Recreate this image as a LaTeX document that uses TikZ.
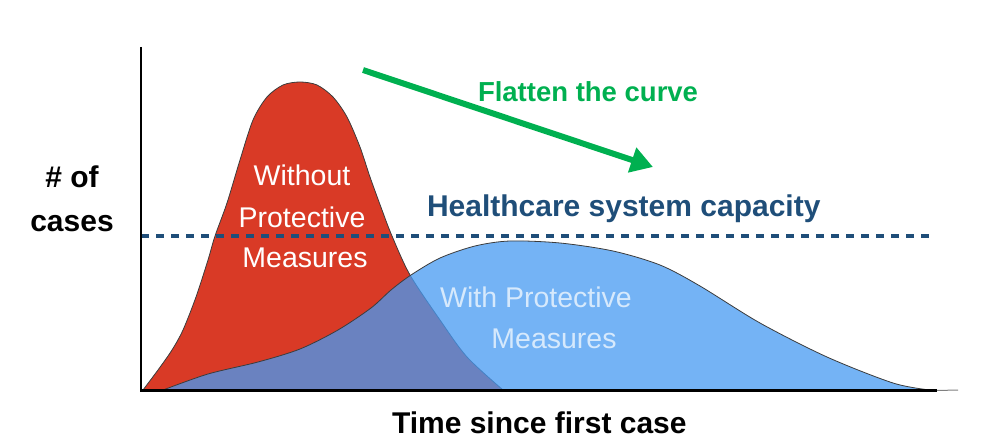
\documentclass[tikz,border=0pt]{standalone}
\usepackage{fontspec}
\setmainfont{Liberation Sans}
\usetikzlibrary{arrows.meta}
\definecolor{redC}{RGB}{217,58,38}
\definecolor{blueC}{RGB}{71,154,242}
\definecolor{capC}{RGB}{31,78,121}
\definecolor{greenC}{RGB}{0,176,80}
\definecolor{paleC}{RGB}{214,233,252}
\definecolor{edgeC}{RGB}{60,60,60}
\begin{document}
\begin{tikzpicture}[x=1pt,y=-1pt,
  lbl/.style={inner sep=0pt,outer sep=0pt},
  boldlbl/.style={lbl,font=\bfseries\fontsize{30}{36}\selectfont},
  curvelbl/.style={lbl,font=\fontsize{28.5}{34}\selectfont},
  axisline/.style={black,line width=2pt},
  capline/.style={capC,line width=4pt,dash pattern=on 8pt off 7pt},
  arrowline/.style={greenC,line width=6pt,-{Triangle[length=22pt,width=25pt]}},
  edge/.style={draw=edgeC,line width=0.8pt}]
\useasboundingbox (0,0) rectangle (1001,446);
% red curve (without measures)
\filldraw[edge,fill=redC] plot[smooth,tension=0.5] coordinates {(143,390) (158,370) (172,350) (183,330) (196,297) (208,260) (215,236) (227,203) (240,160) (253,120) (267,97) (283,85) (300,82) (317,85) (333,97) (347,117) (360,147) (370,177) (382,210) (392,236) (410,275) (440,320) (467,357) (503,390)} -- cycle;
% blue curve (with measures)
\fill[blueC,fill opacity=0.755] plot[smooth,tension=0.5] coordinates {(163,390) (208,374) (258,362) (300,349) (338,330) (371,308) (391,290) (411,275) (440,258) (475,246) (510,241) (560,243) (613,251) (660,265) (700,286) (760,323) (827,357) (893,383) (930,390)} -- cycle;
\draw[edge] plot[smooth,tension=0.5] coordinates {(163,390) (208,374) (258,362) (300,349) (338,330) (371,308) (391,290) (411,275) (440,258) (475,246) (510,241) (560,243) (613,251) (660,265) (700,286) (760,323) (827,357) (893,383) (930,390)};
% capacity line
\coordinate (c1) at (141,236);
\coordinate (c2) at (933,236);
\draw[capline] (c1) -- (c2);
% axes
\coordinate (o) at (141,390.5);
\coordinate (ytop) at (141,47);
\coordinate (xend) at (937,390.5);
\coordinate (xtail) at (958,390);
\draw[axisline] (ytop) -- (o);
\draw[axisline,line width=3pt] ([xshift=-1pt]o) -- (xend);
\draw[gray,line width=1pt] (xend) -- (xtail);
% arrow
\coordinate (a1) at (363,70);
\coordinate (a2) at (653,167);
\draw[arrowline] (a1) -- (a2);
% labels
\node[boldlbl,anchor=base] (y1) at (72,188) {\# of};
\node[boldlbl,anchor=base] (y2) at (72,232) {cases};
\node[boldlbl,anchor=base west] (xl) at (392,433) {Time since first case};
\node[boldlbl,anchor=base west,text=capC] (cap) at (427,217) {Healthcare system capacity};
\node[lbl,anchor=base west,text=greenC,font=\bfseries\fontsize{27.5}{33}\selectfont] (fl) at (478,102) {Flatten the curve};
\node[curvelbl,anchor=base,text=white] (w1) at (302,186) {Without};
\node[curvelbl,anchor=base,text=white] (w2) at (302,228) {Protective};
\node[curvelbl,anchor=base,text=white] (w3) at (305,268) {Measures};
\node[curvelbl,anchor=base,text=paleC] (p1) at (536,307) {With Protective};
\node[curvelbl,anchor=base,text=paleC] (p2) at (554,348) {Measures};
\end{tikzpicture}
\end{document}
